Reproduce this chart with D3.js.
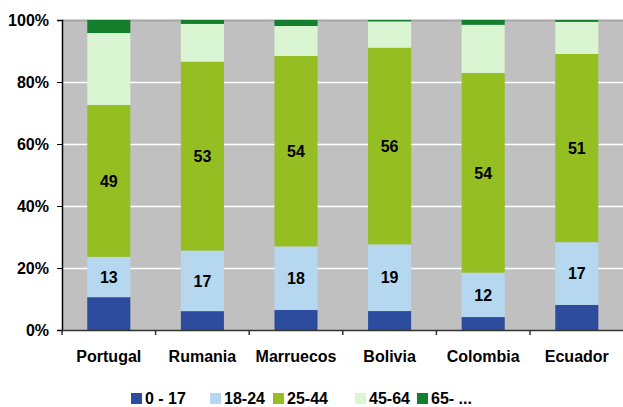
<!DOCTYPE html>
<html>
<head>
<meta charset="utf-8">
<script src="https://cdn.jsdelivr.net/npm/d3@7"></script>
<style>
  body { margin: 0; background: #fff; }
  svg { display: block; font-family: Arial, 'Liberation Sans', sans-serif; }
</style>
</head>
<body>
<div id="chart"></div>
<script>
var countries = ['Portugal', 'Rumania', 'Marruecos', 'Bolivia', 'Colombia', 'Ecuador'];
var groups = ['0 - 17', '18-24', '25-44', '45-64', '65- ...'];

// raw shares per age group, chart normalises each column to 100%
var age0_17  = [10.6, 5.3, 5.7, 5.4, 3.5, 6.8];
var age18_24 = [13, 17, 18, 19, 12, 17];
var age25_44 = [49, 53, 54, 56, 54, 51];
var age45_64 = [23.2, 10.6, 8.5, 7.5, 13.0, 8.7];
var age65    = [4.2, 1.1, 1.7, 0.4, 1.3, 0.5];

var yTicks = [0, 0.2, 0.4, 0.6, 0.8, 1];
var labelled = ['18-24', '25-44'];

var colors = ['#2E4C9E', '#B5D7F0', '#95BE23', '#DAF5D1', '#137E2C'];

var width = 623, height = 407;
var margin = { top: 20, left: 62, bottom: 77 };

var series = [age0_17, age18_24, age25_44, age45_64, age65];
var data = countries.map(function(c, i) {
	var row = { country: c };
	groups.forEach(function(g, j) { row[g] = series[j][i]; });
	return row;
});

var stack = d3.stack().keys(groups).offset(d3.stackOffsetExpand);
var layers = stack(data);

var svg = d3.select('#chart').append('svg')
	.attr('width', width)
	.attr('height', height);

var x = d3.scaleBand()
	.domain(countries)
	.range([margin.left, width + 0.6])
	.paddingInner(0.54)
	.paddingOuter(0.27);

var y = d3.scaleLinear()
	.domain([0, 1])
	.range([height - margin.bottom, margin.top]);

var color = d3.scaleOrdinal().domain(groups).range(colors);

// plot background
svg.append('rect')
	.attr('x', margin.left)
	.attr('y', y(1))
	.attr('width', width - margin.left)
	.attr('height', y(0) - y(1))
	.attr('fill', '#C0C0C0');

// grid
svg.append('g')
	.selectAll('line')
	.data(yTicks.filter(function(t) { return t > 0; }))
	.join('line')
	.attr('x1', margin.left)
	.attr('x2', width)
	.attr('y1', function(d) { return y(d) + 0.5; })
	.attr('y2', function(d) { return y(d) + 0.5; })
	.attr('stroke', function(d) { return d === 1 ? '#A6A6A6' : '#FFFFFF'; })
	.attr('stroke-width', function(d) { return d === 1 ? 2 : 1.5; });

// bars
var layerG = svg.append('g')
	.selectAll('g')
	.data(layers)
	.join('g')
	.attr('fill', function(d) { return color(d.key); });

layerG.selectAll('rect')
	.data(function(d) { return d; })
	.join('rect')
	.attr('x', function(d) { return x(d.data.country); })
	.attr('width', x.bandwidth())
	.attr('y', function(d) { return y(d[1]); })
	.attr('height', function(d) { return y(d[0]) - y(d[1]); });

// value labels
layers.filter(function(l) { return labelled.indexOf(l.key) >= 0; }).forEach(function(l) {
	svg.append('g')
		.selectAll('text')
		.data(l)
		.join('text')
		.attr('x', function(d) { return x(d.data.country) + x.bandwidth() / 2; })
		.attr('y', function(d) { return (y(d[0]) + y(d[1])) / 2; })
		.attr('dy', '0.36em')
		.attr('text-anchor', 'middle')
		.attr('font-size', 16)
		.attr('font-weight', 'bold')
		.attr('fill', '#000')
		.text(function(d) { return d.data[l.key]; });
});

// y axis
var yAxis = d3.axisLeft(y)
	.tickValues(yTicks)
	.tickFormat(d3.format('.0%'))
	.tickSize(5)
	.tickPadding(8);

var yAxisG = svg.append('g')
	.attr('transform', 'translate(' + margin.left + ',0)')
	.call(yAxis);
yAxisG.select('.domain').attr('stroke', '#000').attr('stroke-width', 1.5);
yAxisG.selectAll('.tick line').attr('stroke', '#000');
yAxisG.selectAll('text')
	.attr('font-size', 16)
	.attr('font-weight', 'bold')
	.attr('font-family', null)
	.attr('fill', '#000');

// x axis
var xAxis = d3.axisBottom(x).tickSize(0).tickPadding(21);
var xAxisG = svg.append('g')
	.attr('transform', 'translate(0,' + y(0) + ')')
	.call(xAxis);
xAxisG.select('.domain').attr('stroke', '#333').attr('stroke-width', 1.5);
xAxisG.selectAll('text')
	.attr('font-size', 16)
	.attr('font-weight', 'bold')
	.attr('font-family', null)
	.attr('fill', '#000');

// category separators
xAxisG.append('g')
	.selectAll('line')
	.data(d3.range(countries.length))
	.join('line')
	.attr('x1', function(i) { return x(countries[i]) - x.step() * x.paddingOuter(); })
	.attr('x2', function(i) { return x(countries[i]) - x.step() * x.paddingOuter(); })
	.attr('y1', 0)
	.attr('y2', 5)
	.attr('stroke', '#333')
	.attr('stroke-width', 1.5);

// legend
var legendX = [131, 210, 273, 355, 417];
var legend = svg.append('g')
	.attr('transform', 'translate(0,' + (height - 14) + ')');

var item = legend.selectAll('g')
	.data(groups)
	.join('g')
	.attr('transform', function(d, i) { return 'translate(' + legendX[i] + ',0)'; });

item.append('rect')
	.attr('width', 11)
	.attr('height', 11)
	.attr('fill', function(d) { return color(d); });

item.append('text')
	.attr('x', 14)
	.attr('y', 10.5)
	.attr('font-size', 16)
	.attr('font-weight', 'bold')
	.attr('fill', '#000')
	.text(function(d) { return d; });
</script>
</body>
</html>
